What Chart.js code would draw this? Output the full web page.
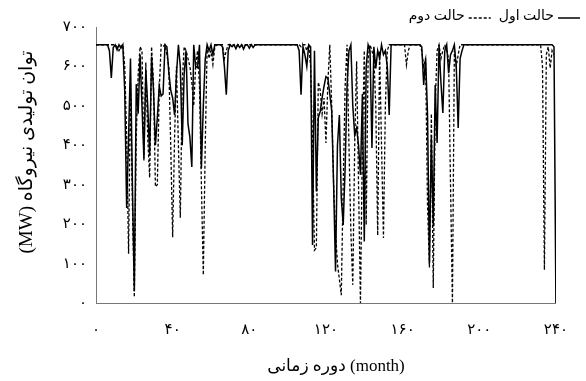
<!DOCTYPE html>
<html>
<head>
<meta charset="utf-8">
<script src="https://cdn.jsdelivr.net/npm/chart.js@4/dist/chart.umd.min.js"></script>
<style>
  html, body { margin: 0; padding: 0; background: #fff; }
  #nemoodar { display: block; }
</style>
</head>
<body>
<canvas id="nemoodar" width="586" height="381"></canvas>
<script>
// توان تولیدی ماهانه نیروگاه (MW) برای دو حالت، ماه ۰ تا ۲۴۰
const halatAval = [
  655, 655, 655, 655, 655, 655, 655, 640, 571, 648,
  655, 642, 655, 646, 655, 536, 241, 420, 620, 300,
  30, 555, 480, 630, 500, 367, 590, 500, 375, 625,
  540, 400, 470, 550, 525, 530, 655, 650, 585, 540,
  520, 477, 580, 655, 600, 400, 580, 640, 455, 420,
  345, 655, 600, 597, 655, 342, 500, 618, 655, 640,
  655, 630, 655, 655, 655, 655, 650, 600, 528, 640,
  655, 650, 655, 645, 655, 648, 655, 644, 655, 655,
  646, 655, 648, 655, 655, 655, 655, 655, 655, 655,
  655, 655, 655, 655, 655, 655, 655, 655, 655, 655,
  655, 655, 655, 655, 655, 655, 640, 528, 650, 630,
  600, 655, 650, 147, 640, 283, 470, 486, 520, 550,
  574, 570, 530, 488, 300, 80, 400, 477, 266, 198,
  342, 550, 640, 655, 500, 426, 444, 400, 325, 530,
  156, 600, 655, 640, 393, 650, 595, 640, 620, 655,
  630, 640, 600, 477, 655, 655, 655, 655, 655, 655,
  655, 655, 655, 655, 655, 655, 655, 655, 655, 655,
  650, 553, 620, 480, 101, 420, 194, 553, 406, 655,
  560, 482, 640, 655, 583, 630, 640, 655, 600, 444,
  620, 640, 655, 655, 655, 655, 655, 655, 655, 655,
  655, 655, 655, 655, 655, 655, 655, 655, 655, 655,
  655, 655, 655, 655, 655, 655, 655, 655, 655, 655,
  655, 655, 655, 655, 655, 655, 655, 655, 655, 655,
  655, 655, 655, 655, 655, 655, 655, 655, 655, 650,
  0
];

const halatDovom = [
  655, 655, 655, 655, 655, 655, 655, 655, 655, 655,
  655, 650, 640, 652, 655, 600, 420, 125, 560, 250,
  15, 420, 580, 650, 640, 360, 610, 420, 318, 650,
  560, 295, 300, 540, 655, 650, 655, 630, 600, 400,
  167, 420, 600, 400, 216, 560, 650, 640, 620, 600,
  560, 500, 600, 640, 550, 300, 71, 400, 650, 620,
  640, 605, 650, 655, 655, 655, 655, 620, 640, 655,
  655, 655, 655, 650, 655, 655, 655, 650, 655, 655,
  655, 655, 655, 655, 655, 655, 655, 655, 655, 655,
  655, 655, 655, 655, 655, 655, 655, 655, 655, 655,
  655, 655, 655, 655, 655, 655, 655, 650, 655, 655,
  640, 655, 600, 400, 134, 140, 560, 540, 480, 520,
  406, 560, 655, 500, 300, 180, 100, 60, 20, 300,
  550, 655, 400, 181, 46, 400, 613, 300, 0, 400,
  640, 198, 620, 655, 640, 620, 500, 172, 640, 400,
  165, 500, 640, 655, 655, 655, 655, 655, 655, 655,
  655, 655, 604, 640, 655, 655, 655, 655, 655, 655,
  640, 600, 620, 250, 90, 480, 38, 500, 640, 655,
  620, 640, 655, 640, 620, 300, 0, 640, 600, 630,
  655, 655, 655, 655, 655, 655, 655, 655, 655, 655,
  655, 655, 655, 655, 655, 655, 655, 655, 655, 655,
  655, 655, 655, 655, 655, 655, 655, 655, 655, 655,
  655, 655, 655, 655, 655, 655, 655, 655, 655, 655,
  655, 655, 655, 600, 84, 630, 650, 596, 640, 630,
  null
];

const namHalatha = ["حالت اول", "حالت دوم"];
const tickhayeX = [0, 40, 80, 120, 160, 200, 240];
const tickhayeY = [0, 100, 200, 300, 400, 500, 600, 700];
const onvanX = "دوره زمانی (month)";
const onvanY = "(MW) توان تولیدی نیروگاه";

const arghamFarsi = "۰۱۲۳۴۵۶۷۸۹";
function beFarsi(n) {
  return String(n).replace(/\d/g, d => arghamFarsi[d]);
}

function noghat(lista) {
  return lista.map((v, i) => ({ x: i, y: v }));
}

const fontMatn = '"Liberation Serif", "DejaVu Sans", serif';

// عنوان محورها و راهنما
const matnPlugin = {
  id: "matnPlugin",
  afterDraw(chart) {
    const ctx = chart.ctx;
    ctx.save();
    ctx.fillStyle = "#000";
    ctx.textBaseline = "middle";
    ctx.textAlign = "center";
    ctx.font = "17px " + fontMatn;
    ctx.fillText(onvanX, 336, 367);

    ctx.save();
    ctx.font = "19px " + fontMatn;
    ctx.translate(27, 152);
    ctx.rotate(-Math.PI / 2);
    ctx.fillText(onvanY, 0, 0);
    ctx.restore();

    // راهنما: متن و نمونه خط کنار هم، از راست به چپ
    ctx.font = "14px " + fontMatn;
    ctx.textAlign = "right";
    let x = 580;
    chart.data.datasets.forEach(ds => {
      ctx.beginPath();
      ctx.setLineDash(ds.borderDash || []);
      ctx.lineWidth = ds.borderWidth;
      ctx.strokeStyle = ds.borderColor;
      ctx.moveTo(x - 22, 18);
      ctx.lineTo(x, 18);
      ctx.stroke();
      ctx.setLineDash([]);
      ctx.fillText(ds.label, x - 26, 16);
      x -= 26 + ctx.measureText(ds.label).width + 8;
    });
    ctx.restore();
  }
};

new Chart(document.getElementById("nemoodar"), {
  type: "line",
  data: {
    datasets: [
      {
        label: namHalatha[0],
        data: noghat(halatAval),
        borderColor: "#000",
        borderWidth: 1.5,
        pointRadius: 0,
        tension: 0
      },
      {
        label: namHalatha[1],
        data: noghat(halatDovom),
        borderColor: "#000",
        borderWidth: 1.3,
        borderDash: [3, 2],
        pointRadius: 0,
        tension: 0
      }
    ]
  },
  options: {
    responsive: false,
    animation: false,
    layout: { padding: { top: 27, right: 23, left: 0, bottom: 0 } },
    plugins: {
      legend: { display: false },
      tooltip: { enabled: false }
    },
    scales: {
      x: {
        type: "linear",
        min: tickhayeX[0],
        max: tickhayeX[tickhayeX.length - 1],
        afterBuildTicks: s => { s.ticks = tickhayeX.map(v => ({ value: v })); },
        afterFit: s => { s.height = 78; },
        grid: { display: false, drawTicks: false },
        border: { color: "#777", width: 1 },
        ticks: {
          padding: 18,
          maxRotation: 0,
          color: "#000",
          font: { family: fontMatn, size: 15 },
          callback: v => beFarsi(v)
        }
      },
      y: {
        min: tickhayeY[0],
        max: tickhayeY[tickhayeY.length - 1],
        afterBuildTicks: s => { s.ticks = tickhayeY.map(v => ({ value: v })); },
        afterFit: s => { s.width = 96; },
        grid: { display: false, drawTicks: false },
        border: { color: "#777", width: 1 },
        ticks: {
          padding: 9,
          color: "#000",
          font: { family: fontMatn, size: 15 },
          callback: v => beFarsi(v)
        }
      }
    }
  },
  plugins: [matnPlugin]
});
</script>
</body>
</html>
